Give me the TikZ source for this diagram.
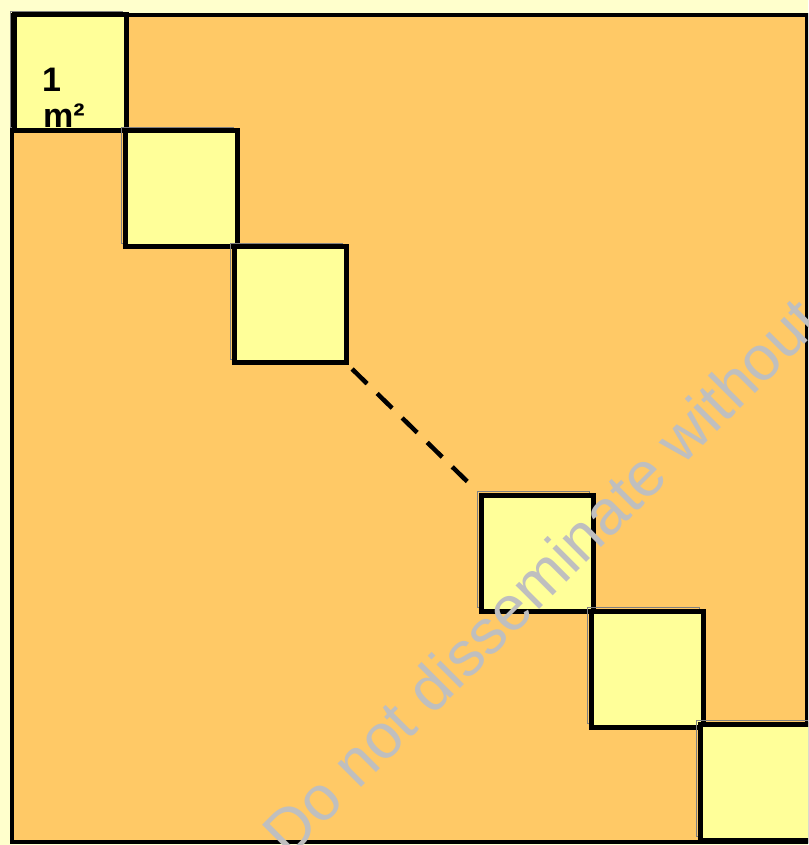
\documentclass[tikz,border=0pt]{standalone}
\usepackage{fontspec}
\setmainfont{Liberation Sans}
\usetikzlibrary{positioning}
\definecolor{paper}{HTML}{FFFFCC}
\definecolor{floor}{HTML}{FFC966}
\definecolor{tilefill}{HTML}{FFFF99}
\definecolor{markgray}{HTML}{BFBFBF}
\tikzset{
  tilebox/.style={draw, line width=5pt, fill=tilefill, minimum width=112pt, minimum height=116pt, inner sep=0pt,
    preaction={draw=black!50, line width=0.8pt, transform canvas={shift={(-4pt,4pt)}}}},
  gapline/.style={line width=4.5pt, dash pattern=on 21pt off 14pt},
  arealabel/.style={font=\fontsize{34}{34}\selectfont\bfseries, inner sep=0pt, anchor=base west},
  watermark/.style={font=\fontsize{63}{63}\selectfont, text=markgray, inner sep=0pt, anchor=base west, rotate=45}
}

\begin{document}
\begin{tikzpicture}[x=1pt, y=1pt]
  \useasboundingbox (0,0) rectangle (808,845);
  \clip (0,0) rectangle (808,845);
  \fill[paper] (0,0) rectangle (808,845);
  \draw[line width=4pt, fill=floor] (12,2.5) rectangle (806.5,830);
  % tiles along the diagonal
  \node[tilebox] (t1) at (70,772) {};
  \node[tilebox] (t2) at (181,656) {};
  \node[tilebox] (t3) at (290,540) {};
  \node[tilebox] (t4) at (537.5,291.5) {};
  \node[tilebox] (t5) at (647.5,175.5) {};
  \node[tilebox] (t6) at (756.5,62.5) {};
  \draw[gapline, shorten <=5pt, shorten >=10pt] (t3.south east) -- (t4.north west);
  \node[arealabel] (one) at (42,753) {1};
  \node[arealabel] (unit) at (43,717) {m²};
  \node[watermark] (mark) at (289,-15) {Do not disseminate without};
\end{tikzpicture}
\end{document}
